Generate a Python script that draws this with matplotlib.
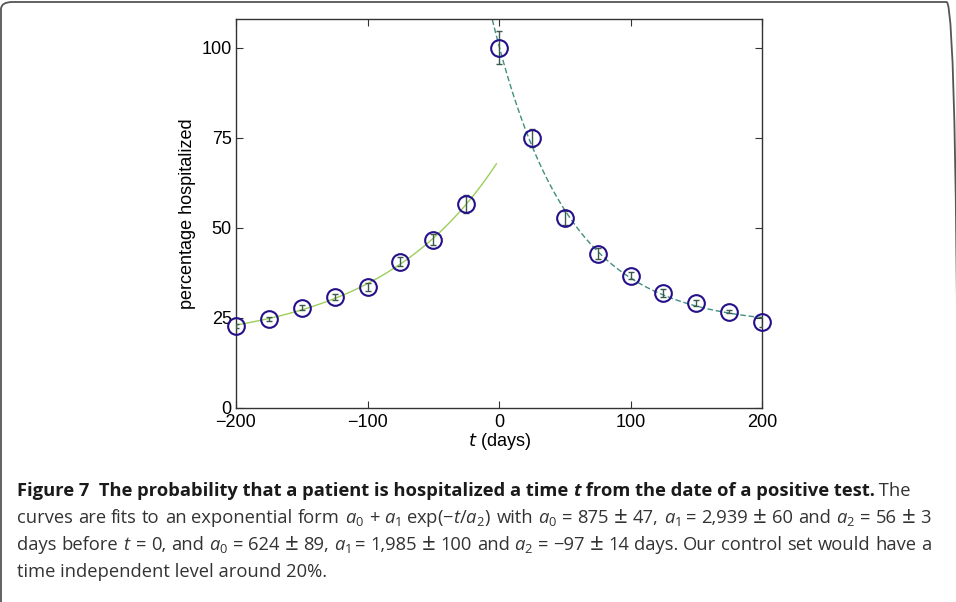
import matplotlib
matplotlib.use('Agg')
import matplotlib.pyplot as plt
import numpy as np
from matplotlib.patches import FancyBboxPatch

plt.rcParams['font.family'] = ['Liberation Sans', 'DejaVu Sans']
plt.rcParams['mathtext.fontset'] = 'custom'
plt.rcParams['mathtext.rm'] = 'Open Sans'
plt.rcParams['mathtext.it'] = 'Open Sans:italic'
plt.rcParams['mathtext.bf'] = 'Open Sans:bold'

# data (days, percent hospitalized, error)
t_before = [-200, -175, -150, -125, -100, -75, -50, -25]
p_before = [22.8, 24.7, 27.8, 30.8, 33.6, 40.6, 46.7, 56.7]
e_before = [0.5, 0.6, 0.7, 0.8, 1.2, 1.2, 1.5, 2.5]

t_after = [0, 25, 50, 75, 100, 125, 150, 175, 200]
p_after = [100.0, 75.0, 52.8, 42.8, 36.7, 31.9, 29.2, 26.7, 23.9]
e_after = [4.6, 2.5, 2.0, 1.5, 1.0, 1.0, 0.8, 0.4, 1.5]

xticks = [-200, -100, 0, 100, 200]
yticks = [0, 25, 50, 75, 100]


def exp_fit(t, p, sign):
    # least squares fit of a0 + a1*exp(sign*t/a2), grid over a2
    t = np.asarray(t, float)
    p = np.asarray(p, float)
    best = None
    for a2 in np.linspace(10, 400, 2000):
        A = np.column_stack([np.ones_like(t), np.exp(sign * t / a2)])
        coef, res, _, _ = np.linalg.lstsq(A, p, rcond=None)
        r = np.sum((A @ coef - p) ** 2)
        if best is None or r < best[0]:
            best = (r, coef[0], coef[1], a2)
    return best[1:]


fig = plt.figure(figsize=(9.56, 6.02), dpi=100)

# rounded frame round the whole figure
frame = FancyBboxPatch((1 / 956, -0.05), 957 / 956, 1.05 - 2 / 602,
                       boxstyle='round,pad=0,rounding_size=0.012',
                       transform=fig.transFigure, fill=False,
                       edgecolor='#555555', linewidth=1.3, clip_on=True)
fig.patches.append(frame)

ax = fig.add_axes([236 / 956, 1 - 408 / 602, 526 / 956, 389 / 602])

a0, a1, a2 = exp_fit(t_before, p_before, 1)
tt = np.linspace(-200, -2, 200)
ax.plot(tt, a0 + a1 * np.exp(tt / a2), color='#9ccf5a', lw=1.0, zorder=2)

b0, b1, b2 = exp_fit(t_after, p_after, -1)
tt = np.linspace(-8, 200, 300)
ax.plot(tt, b0 + b1 * np.exp(-tt / b2), color='#3f8f7f', lw=1.0,
        ls=(0, (4, 2)), zorder=2)

for t, p, e in [(t_before, p_before, e_before), (t_after, p_after, e_after)]:
    ax.errorbar(t, p, yerr=e, fmt='none', ecolor='#3c5a4c', elinewidth=1.0,
                capsize=2.0, capthick=1.0, zorder=3)
    ax.plot(t, p, 'o', ms=12, mfc='none', mec='#25108a', mew=1.5,
            zorder=4, clip_on=False)

ax.set_xlim(-200, 200)
ax.set_ylim(0, 108)
ax.set_xticks(xticks)
ax.set_yticks(yticks)
ax.set_xticklabels(['\u2212200', '\u2212100', '0', '100', '200'])
ax.tick_params(direction='in', top=True, right=True, length=5,
               labelsize=13, color='#333333')
ax.tick_params(axis='x', pad=4.5)
ax.tick_params(axis='y', pad=3)
for s in ax.spines.values():
    s.set_color('#333333')
    s.set_linewidth(1.0)

ax.set_xlabel(r'$\it{t}$ (days)', fontsize=13, labelpad=0,
              math_fontfamily='dejavusans')
ax.set_ylabel('percentage hospitalized', fontsize=13, labelpad=4)

# caption
cap_font = 'Open Sans'
cs = 13.2
x0 = 17 / 956
x_right = 931 / 956
lines_y = [1 - 496 / 602, 1 - 523 / 602, 1 - 550 / 602, 1 - 577 / 602]

fig.canvas.draw()
r = fig.canvas.get_renderer()
tb = fig.text(x0, lines_y[0], 'Figure 7  The probability that a patient is hospitalized a time ',
              fontsize=cs, family=cap_font, weight='bold', color='#1a1a1a')
w = tb.get_window_extent(r).width / 956
tb2 = fig.text(x0 + w, lines_y[0], 't', fontsize=cs, family=cap_font,
               weight='bold', style='italic', color='#1a1a1a')
w += tb2.get_window_extent(r).width / 956
tb3 = fig.text(x0 + w, lines_y[0], ' from the date of a positive test.',
               fontsize=cs, family=cap_font, weight='bold', color='#1a1a1a')
w += tb3.get_window_extent(r).width / 956
fig.text(x0 + w, lines_y[0], ' The', fontsize=cs, family=cap_font,
         color='#333333')

cap_words = [
    ['curves', 'are', 'fits', 'to', 'an', 'exponential', 'form',
     r'$a_0$', '+', r'$a_1$', 'exp(\u2212$t$/$a_2$)', 'with',
     r'$a_0$', '=', '875', '\u00b1', '47,', r'$a_1$', '=', '2,939', '\u00b1',
     '60', 'and', r'$a_2$', '=', '56', '\u00b1', '3'],
    ['days', 'before', r'$t$', '=', '0,', 'and', r'$a_0$', '=', '624', '\u00b1',
     '89,', r'$a_1$', '=', '1,985', '\u00b1', '100', 'and', r'$a_2$', '=',
     '\u221297', '\u00b1', '14', 'days.', 'Our', 'control', 'set', 'would',
     'have', 'a'],
]

# justified lines: spread words across the full width
for words, y in zip(cap_words, lines_y[1:3]):
    items = []
    for wd in words:
        size = cs * 1.3 if wd == '\u00b1' else cs
        items.append(fig.text(0, y, wd, fontsize=size, family=cap_font,
                              color='#333333'))
    widths = [it.get_window_extent(r).width / 956 for it in items]
    gap = (x_right - x0 - sum(widths)) / (len(words) - 1)
    x = x0
    for it, wd in zip(items, widths):
        it.set_x(x)
        x += wd + gap

fig.text(x0, lines_y[3], 'time independent level around 20%.', fontsize=cs,
         family=cap_font, color='#333333')

fig.savefig('out.png', dpi=100)
